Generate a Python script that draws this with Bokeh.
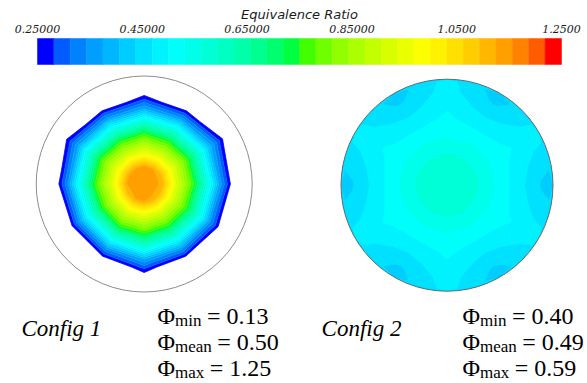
import numpy as np
from bokeh.plotting import figure
from bokeh.models import Range1d
from bokeh.core.properties import value
from bokeh.embed import file_html
from bokeh.resources import INLINE

# ---------------- data ----------------
levels = list(np.linspace(0.25, 1.25, 33))          # 32 colour bands
tick_values = [0.25, 0.45, 0.65, 0.85, 1.05, 1.25]
tick_labels = ["0.25000", "0.45000", "0.65000", "0.85000", "1.0500", "1.2500"]
palette = ["#0000ff", "#005cff", "#0082ff", "#009fff", "#00b7ff", "#00cdff", "#00e0ff", "#00f2ff",
           "#00fffb", "#00ffea", "#00ffd7", "#00ffc2", "#00ffab", "#00ff91", "#00ff70", "#00ff41",
           "#41ff00", "#70ff00", "#91ff00", "#abff00", "#c2ff00", "#d7ff00", "#eaff00", "#fbff00",
           "#fff200", "#ffe000", "#ffcd00", "#ffb700", "#ff9f00", "#ff8200", "#ff5c00", "#ff0000"]

angles_deg = [0, 30, 60, 90, 120, 150, 180, 210, 240, 270, 300, 330]

# Config 1: equivalence ratio on rings (fraction of radius) x angles
rings1 = [0.0, 0.16, 0.30, 0.45, 0.60, 0.70, 0.80, 0.90, 1.00]
phi1 = [
    [1.15] * 12,
    [1.12, 1.12, 1.125, 1.13, 1.13, 1.125, 1.125, 1.12, 1.125, 1.125, 1.12, 1.115],
    [0.93, 0.94, 0.93, 0.94, 0.93, 0.94, 0.93, 0.92, 0.93, 0.93, 0.92, 0.92],
    [0.76, 0.77, 0.75, 0.77, 0.75, 0.77, 0.76, 0.74, 0.75, 0.76, 0.74, 0.75],
    [0.53, 0.55, 0.52, 0.54, 0.52, 0.55, 0.53, 0.51, 0.51, 0.54, 0.51, 0.53],
    [0.36, 0.39, 0.35, 0.37, 0.35, 0.38, 0.35, 0.34, 0.34, 0.37, 0.34, 0.35],
    [0.248, 0.285, 0.228, 0.265, 0.228, 0.274, 0.239, 0.214, 0.214, 0.265, 0.214, 0.239],
    [0.19] * 12,
    [0.13] * 12,
]

# Config 2
rings2 = [0.0, 0.30, 0.50, 0.65, 0.80, 0.90, 1.00]
phi2 = [
    [0.585] * 12,
    [0.562] * 12,
    [0.52] * 12,
    [0.485, 0.505, 0.485, 0.505, 0.485, 0.505, 0.485, 0.505, 0.485, 0.505, 0.485, 0.505],
    [0.455, 0.49, 0.455, 0.49, 0.455, 0.49, 0.455, 0.49, 0.455, 0.49, 0.455, 0.49],
    [0.432, 0.484, 0.432, 0.484, 0.432, 0.484, 0.432, 0.484, 0.432, 0.484, 0.432, 0.484],
    [0.42, 0.48, 0.42, 0.48, 0.42, 0.48, 0.42, 0.48, 0.42, 0.48, 0.42, 0.48],
]

config_names = ["Config 1", "Config 2"]
stat_names = ["min", "mean", "max"]
stats = [["0.13", "0.50", "1.25"], ["0.40", "0.49", "0.59"]]

# ---------------- layout constants ----------------
W, H = 587, 383
C1 = (143.7, 183.5, 108.0)
C2 = (446.5, 184.7, 106.0)
BAR_L, BAR_R = 37.0, 561.0
SHIFT = 0.4  # em offset between requested and drawn baseline


def yb(baseline, fs):
    return baseline - SHIFT * fs


p = figure(width=W, height=H, x_range=Range1d(0, W), y_range=Range1d(H, 0),
           output_backend="svg", toolbar_location=None, min_border=0,
           x_axis_location=None, y_axis_location=None, outline_line_color=None)
p.grid.visible = False
p.background_fill_color = "white"
p.border_fill_color = "white"

per_px = (levels[-1] - levels[0]) / (BAR_R - BAR_L)
p.extra_x_ranges = {"cb": Range1d(levels[0] - BAR_L * per_px, levels[-1] + (W - BAR_R) * per_px)}

# colour bar
p.quad(left=levels[:-1], right=levels[1:], top=38, bottom=64, fill_color=palette,
       line_color=palette, line_width=0.5, x_range_name="cb")
p.text(x=tick_values, y=[yb(33.3, 11)] * len(tick_values), text=tick_labels, x_range_name="cb",
       text_font=value("DejaVu Serif"), text_font_style="italic", text_font_size="11px",
       text_align="center", text_baseline="alphabetic", text_color="#1a1a1a")
p.text(x=[0.75], y=[yb(19.3, 13)], text=["Equivalence Ratio"], x_range_name="cb",
       text_font=value("DejaVu Sans"), text_font_style="italic", text_font_size="13px",
       text_align="center", text_baseline="alphabetic", text_color="#1a1a1a")


def polar_grid(rings, phi, cx, cy, R):
    th = np.deg2rad(np.array(angles_deg + [360]))
    r = np.array(rings)[:, None] * R
    X = cx + r * np.cos(th)[None, :]
    Y = cy - r * np.sin(th)[None, :]
    Z = np.array([row + row[:1] for row in phi], dtype=float)
    return X, Y, Z


line_cols = palette + [palette[-1]]

# Config 2 base disc
p.circle(x=[C2[0]], y=[C2[1]], radius=C2[2], fill_color=palette[6], line_color=None)

for (cx, cy, R), rings, phi in [(C1, rings1, phi1), (C2, rings2, phi2)]:
    X, Y, Z = polar_grid(rings, phi, cx, cy, R)
    p.contour(x=X, y=Y, z=Z, levels=levels, fill_color=palette, line_color=line_cols, line_width=0.8)

p.circle(x=[C1[0]], y=[C1[1]], radius=C1[2], fill_color=None, line_color="#8c8c8c", line_width=1)
p.circle(x=[C2[0]], y=[C2[1]], radius=C2[2], fill_color=None, line_color="#5f6b70", line_width=1)

# bottom texts
rows_y = [325, 351.5, 377.5]
sub_x = 174.5
rest_x = [206.5, 216.8, 209.3]
for b, dx in enumerate([0.0, 305.0]):
    p.text(x=[21 + dx * 0.984], y=[yb(336.7, 23)], text=[config_names[b]], text_font=value("Liberation Serif"),
           text_font_style="italic", text_font_size="23px", text_baseline="alphabetic", text_color="black")
    p.text(x=[157 + dx] * 3, y=[yb(v, 24) for v in rows_y], text=["\u03a6"] * 3,
           text_font=value("Liberation Serif"),
           text_font_size="24px", text_baseline="alphabetic", text_color="black")
    p.text(x=[sub_x + dx] * 3, y=[yb(v + 1.5, 17) for v in rows_y], text=stat_names,
           text_font=value("Liberation Serif"),
           text_font_size="17px", text_baseline="alphabetic", text_color="black")
    p.text(x=[v + dx for v in rest_x], y=[yb(v, 24) for v in rows_y], text=["= " + s for s in stats[b]],
           text_font=value("Liberation Serif"), text_font_size="24px", text_baseline="alphabetic",
           text_color="black")

open("out.html", "w").write(file_html(p, INLINE))
